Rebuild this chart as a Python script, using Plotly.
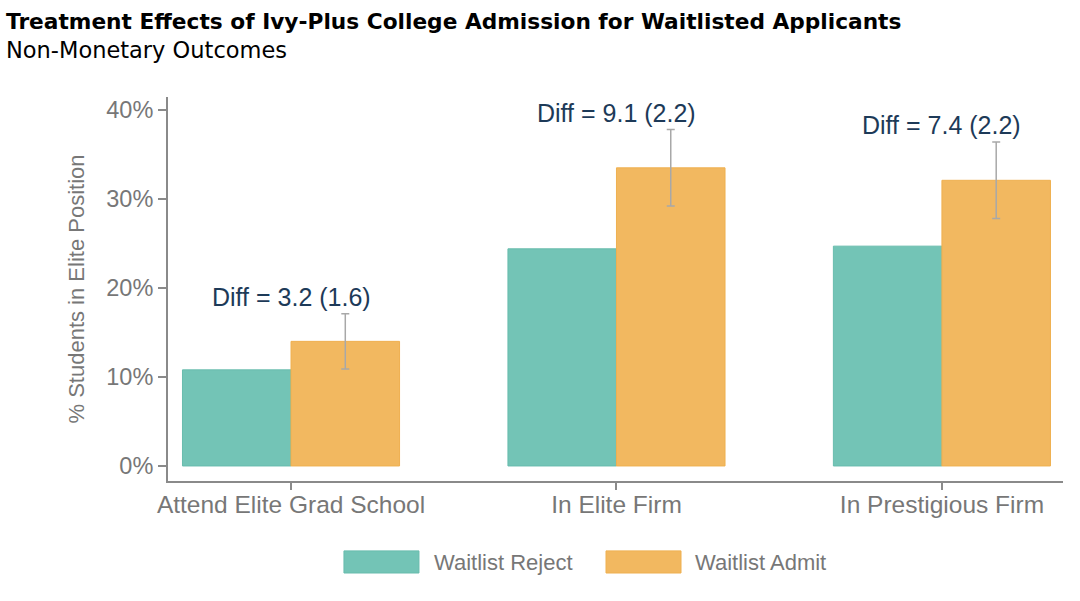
import plotly.graph_objects as go

categories = ["Attend Elite Grad School", "In Elite Firm", "In Prestigious Firm"]
reject_vals = [10.8, 24.4, 24.7]
admit_vals = [14.0, 33.5, 32.1]
diff_vals = [3.2, 9.1, 7.4]
diff_se = [1.6, 2.2, 2.2]
ci_half = [3.1, 4.3, 4.3]
y_ticks = [0, 10, 20, 30, 40]
y_ticklabels = ["0%", "10%", "20%", "30%", "40%"]
series_names = ["Waitlist Reject", "Waitlist Admit"]

TEAL = "#73c4b6"
TEAL_LINE = "#68bcad"
ORANGE = "#f2b860"
ORANGE_LINE = "#efb050"
GRAY_TXT = "#777777"
AXIS_COL = "#8a8a8a"
NAVY = "#1d3a58"
FONT = "Liberation Sans, Arial, sans-serif"

fig = go.Figure()
fig.add_trace(go.Bar(
    x=categories, y=reject_vals, name=series_names[0],
    marker=dict(color=TEAL, line=dict(color=TEAL_LINE, width=1)),
    showlegend=False,
))
fig.add_trace(go.Bar(
    x=categories, y=admit_vals, name=series_names[1],
    marker=dict(color=ORANGE, line=dict(color=ORANGE_LINE, width=1)),
    error_y=dict(type="data", array=ci_half, visible=True,
                 color="#a8a8a8", thickness=1.5, width=4),
    showlegend=False,
))

annotations = []
for cat, a, h, d, s in zip(categories, admit_vals, ci_half, diff_vals, diff_se):
    annotations.append(dict(
        x=cat, y=a + h, xref="x", yref="y", text=f"Diff = {d:.1f} ({s:.1f})",
        showarrow=False, yanchor="bottom", xanchor="center", yshift=1,
        font=dict(family=FONT, size=25, color=NAVY),
    ))

# Title and subtitle
annotations.append(dict(
    x=-0.1835, y=1.196, xref="paper", yref="paper", xanchor="left", yanchor="middle",
    text="<b>Treatment Effects of Ivy-Plus College Admission for Waitlisted Applicants</b>",
    showarrow=False, font=dict(family="DejaVu Sans, sans-serif", size=21.7, color="#000000"),
))
annotations.append(dict(
    x=-0.1835, y=1.123, xref="paper", yref="paper", xanchor="left", yanchor="middle",
    text="Non-Monetary Outcomes",
    showarrow=False, font=dict(family="DejaVu Sans, sans-serif", size=22.5, color="#000000"),
))

# Custom legend
shapes = []
legend_items = [
    (series_names[0], TEAL, TEAL_LINE, 0.1966, 0.2804, 0.295),
    (series_names[1], ORANGE, ORANGE_LINE, 0.4894, 0.5732, 0.5866),
]
for name, fill, line, x0, x1, tx in legend_items:
    shapes.append(dict(type="rect", xref="paper", yref="paper",
                       x0=x0, x1=x1, y0=-0.2396, y1=-0.182,
                       fillcolor=fill, line=dict(color=line, width=1)))
    annotations.append(dict(
        x=tx, y=-0.211, xref="paper", yref="paper", xanchor="left", yanchor="middle",
        text=name, showarrow=False, font=dict(family=FONT, size=22, color=GRAY_TXT),
    ))

fig.update_layout(
    width=1080, height=601,
    margin=dict(l=168, r=17, t=97, b=120),
    paper_bgcolor="white", plot_bgcolor="white",
    barmode="group", bargap=0.333, bargroupgap=0,
    showlegend=False,
    annotations=annotations, shapes=shapes,
    font=dict(family=FONT, color=GRAY_TXT),
)
fig.update_xaxes(
    range=[-0.378, 2.372], showline=True, linecolor=AXIS_COL, linewidth=2,
    ticks="outside", ticklen=7, tickwidth=1.5, tickcolor=AXIS_COL,
    tickfont=dict(family=FONT, size=24.5, color=GRAY_TXT),
    ticklabelstandoff=-6,
    showgrid=False, zeroline=False,
)
fig.update_yaxes(
    range=[-1.69, 41.46], showline=True, linecolor=AXIS_COL, linewidth=2,
    ticks="outside", ticklen=8, tickwidth=1.5, tickcolor=AXIS_COL,
    tickvals=y_ticks, ticktext=y_ticklabels,
    tickfont=dict(family=FONT, size=23.5, color=GRAY_TXT),
    title=dict(text="% Students in Elite Position", standoff=16,
               font=dict(family=FONT, size=22, color=GRAY_TXT)),
    showgrid=False, zeroline=False,
)

fig.write_html("out.html")
